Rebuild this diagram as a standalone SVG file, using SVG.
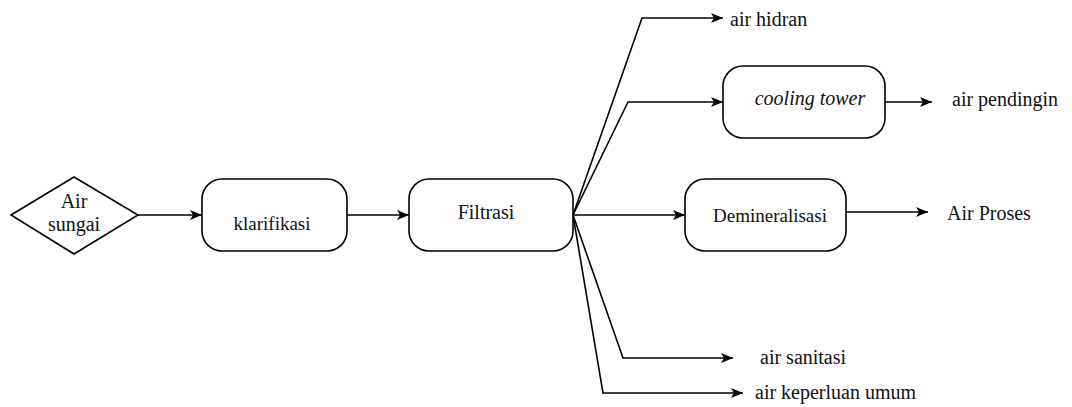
<svg xmlns="http://www.w3.org/2000/svg" width="1072" height="407" viewBox="0 0 1072 407">
<defs>
<marker id="arr" viewBox="0 0 12 10" refX="12" refY="5" markerWidth="12" markerHeight="10" markerUnits="userSpaceOnUse" orient="auto">
<path d="M0,0 L12,5 L0,10 L3,5 z" fill="#000"/>
</marker>
<style>
.box{fill:#fff;stroke:#000;stroke-width:1.6}
.ln{fill:none;stroke:#000;stroke-width:1.6;marker-end:url(#arr)}
.t{font-family:'Liberation Serif','Times New Roman',serif;font-size:20px;fill:#111}
.it{font-style:italic}
.s19{font-size:19px}
</style>
</defs>
<rect width="1072" height="407" fill="#fff"/>
<g id="connectors">
<path class="ln" d="M138,215 H202"/>
<path class="ln" d="M347,215 H409"/>
<path class="ln" d="M573,215 L642,18 H723"/>
<path class="ln" d="M573,215 L628,102 H723"/>
<path class="ln" d="M573,215 H685"/>
<path class="ln" d="M573,215 L623,358 H733"/>
<path class="ln" d="M573,215 L603,393 H743"/>
<path class="ln" d="M885,102 H932"/>
<path class="ln" d="M846,212 H928"/>
</g>
<g id="air-sungai">
<polygon class="box" points="11,215 74,177 138,215 74,254"/>
<text class="t" x="74" y="208" text-anchor="middle">Air</text>
<text class="t" x="74" y="231" text-anchor="middle">sungai</text>
</g>
<g id="klarifikasi">
<rect class="box" x="202" y="179" width="145" height="72" rx="20"/>
<text class="t s19" x="272" y="230" text-anchor="middle">klarifikasi</text>
</g>
<g id="filtrasi">
<rect class="box" x="409" y="179" width="164" height="72" rx="20"/>
<text class="t" x="486" y="219" text-anchor="middle">Filtrasi</text>
</g>
<g id="cooling-tower">
<rect class="box" x="723" y="66" width="162" height="72" rx="20"/>
<text class="t it" x="810" y="105" text-anchor="middle">cooling tower</text>
</g>
<g id="demineralisasi">
<rect class="box" x="685" y="179" width="161" height="72" rx="20"/>
<text class="t s19" x="770" y="222" text-anchor="middle">Demineralisasi</text>
</g>
<g id="air-hidran"><text class="t" x="730" y="26">air hidran</text></g>
<g id="air-pendingin"><text class="t" x="952" y="106">air pendingin</text></g>
<g id="air-proses"><text class="t" x="947" y="220">Air Proses</text></g>
<g id="air-sanitasi"><text class="t" x="760" y="364">air sanitasi</text></g>
<g id="air-keperluan-umum"><text class="t" x="755" y="399">air keperluan umum</text></g>
</svg>
